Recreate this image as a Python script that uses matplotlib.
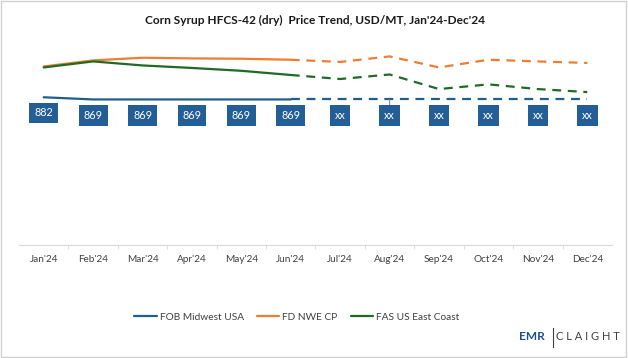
import matplotlib.pyplot as plt
from matplotlib.patches import Rectangle

plt.rcParams['font.family'] = ['Lato', 'DejaVu Sans']

months = ["Jan'24", "Feb'24", "Mar'24", "Apr'24", "May'24", "Jun'24",
          "Jul'24", "Aug'24", "Sep'24", "Oct'24", "Nov'24", "Dec'24"]
fob_midwest = [882, 869, 869, 869, 869, 869, 869, 869, 869, 869, 869, 869]
fd_nwe = [1066, 1102, 1118, 1114, 1112, 1106, 1093, 1126, 1060, 1106, 1096, 1087]
fas_east = [1060, 1096, 1072, 1057, 1040, 1015, 991, 1018, 931, 959, 931, 913]
labels = ["882", "869", "869", "869", "869", "869", "xx", "xx", "xx", "xx", "xx", "xx"]

blue = "#1F5F8B"
orange = "#ED7D31"
green = "#1E6B24"
box_blue = "#235E96"

fig = plt.figure(figsize=(6.28, 3.58), dpi=100)
ax = fig.add_axes([19 / 628, 113 / 358, 593 / 628, 201 / 358])

x = list(range(len(months)))
split = 5  # Jun is the last actual point

for data, col, name in [(fob_midwest, blue, "FOB Midwest USA"),
                        (fd_nwe, orange, "FD NWE CP"),
                        (fas_east, green, "FAS US East Coast")]:
    ax.plot(x[:split + 1], data[:split + 1], color=col, lw=1.6, label=name,
            solid_capstyle='round')
    ax.plot(x[split:], data[split:], color=col, lw=1.6, ls=(0, (4, 3)))

for i, v in enumerate(fob_midwest):
    kw = {}
    if i == 7:
        kw['arrowprops'] = dict(arrowstyle='-', color='#8C8C8C', lw=0.8,
                                shrinkA=0, shrinkB=0)
    ax.annotate(labels[i], (i, v), xytext=(0, -11.3), textcoords='offset points',
                ha='center', va='center', color='white', fontsize=7.8,
                bbox=dict(boxstyle='square,pad=0.45', fc=box_blue, ec='none'),
                **kw)

ax.set_xlim(-0.5, 11.5)
ax.set_ylim(0, 1200)
ax.set_yticks([])
for s in ['left', 'right', 'top']:
    ax.spines[s].set_visible(False)
ax.spines['bottom'].set_color('#D9D9D9')
ax.set_xticks(x)
ax.set_xticklabels(months, fontsize=7.2, color='#404040')
ax.set_xticks([i + 0.5 for i in range(11)], minor=True)
ax.tick_params(axis='x', which='major', length=0, pad=7)
ax.tick_params(axis='x', which='minor', length=3, color='#D9D9D9')

fig.text(315 / 628, 1 - 20 / 358, "Corn Syrup HFCS-42 (dry)  Price Trend, USD/MT, Jan'24-Dec'24",
         ha='center', va='center', fontsize=8.6, fontweight='bold', color='#1A1A1A')

fig.legend(loc='center', bbox_to_anchor=(297 / 628, 1 - 317 / 358), ncol=3,
           frameon=False, fontsize=7.3, handlelength=2.2, handletextpad=0.3,
           columnspacing=1.3, labelcolor='#404040')

# logo
fig.text(532 / 628, 1 - 337 / 358, "EMR", ha='center', va='center', fontsize=8.5,
         fontweight='bold', color='#1F4E8C')
fig.add_artist(plt.Line2D([553 / 628, 553 / 628], [1 - 328 / 358, 1 - 347 / 358],
                          color='#404040', lw=0.8))
fig.text(588 / 628, 1 - 337 / 358, "C L A I G H T", ha='center', va='center',
         fontsize=8, color='#404040')

fig.add_artist(Rectangle((0.002, 0.003), 0.995, 0.993, transform=fig.transFigure,
                         fill=False, ec='#D0D0D0', lw=1))

fig.savefig('out.png', dpi=100)
